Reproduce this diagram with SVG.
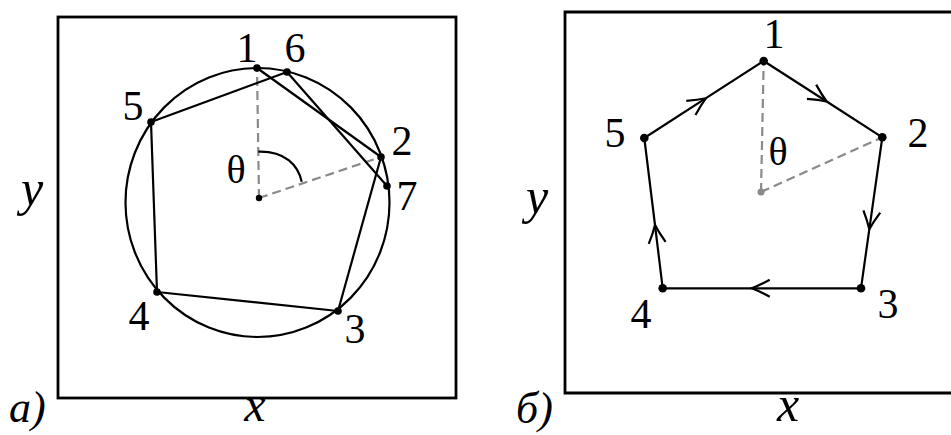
<svg xmlns="http://www.w3.org/2000/svg" width="951" height="435" viewBox="0 0 951 435">
<style>
.frame{fill:none;stroke:#000;stroke-width:2.8}
.edge{fill:none;stroke:#000;stroke-width:2.2}
.dash{fill:none;stroke:#8a8a8a;stroke-width:2.2;stroke-dasharray:9 5}
.pt{fill:#000}
.lbl{font-family:"Liberation Serif",serif;font-size:42px;fill:#000;text-anchor:middle}
.th{font-family:"Liberation Serif",serif;font-size:40px;fill:#000;text-anchor:middle}
.ax{font-family:"Liberation Serif",serif;font-style:italic;font-size:50px;fill:#000;text-anchor:middle}
.tag{font-family:"Liberation Serif",serif;font-style:italic;font-size:44px;fill:#000}
</style>
<defs>
<marker id="chev" markerUnits="userSpaceOnUse" markerWidth="40" markerHeight="40" viewBox="-20 -20 40 40" refX="0" refY="0" orient="auto">
<path d="M-18,-8.5 Q-8,-3 0,0 Q-8,3 -18,8.5" fill="none" stroke="#000" stroke-width="2.2"/>
</marker>
</defs>
<rect width="951" height="435" fill="#fff"/>

<g id="panel-a">
<rect class="frame" x="58" y="17" width="398" height="381"/>
<ellipse class="edge" cx="257.5" cy="202.5" rx="132" ry="134.5"/>
<g id="a-connectors">
<path class="dash" d="M259,198 L257,68"/>
<path class="dash" d="M259,198 L381,157"/>
<path class="edge" d="M258.3,151.7 C285,151 298,165 301.7,181.7"/>
<path class="edge" d="M257,68 L381,157"/>
<path class="edge" d="M381,157 L338,311"/>
<path class="edge" d="M338,311 L157,292"/>
<path class="edge" d="M157,292 L151,122"/>
<path class="edge" d="M151,122 L287,72"/>
<path class="edge" d="M287,72 L387,186"/>
</g>
<g id="a-n1"><circle class="pt" cx="257" cy="68" r="3.8"/><text class="lbl" x="247" y="62">1</text></g>
<g id="a-n2"><circle class="pt" cx="381" cy="157" r="3.8"/><text class="lbl" x="402" y="155">2</text></g>
<g id="a-n3"><circle class="pt" cx="338" cy="311" r="3.8"/><text class="lbl" x="355" y="343">3</text></g>
<g id="a-n4"><circle class="pt" cx="157" cy="292" r="3.8"/><text class="lbl" x="139" y="330">4</text></g>
<g id="a-n5"><circle class="pt" cx="151" cy="122" r="3.8"/><text class="lbl" x="133" y="120">5</text></g>
<g id="a-n6"><circle class="pt" cx="287" cy="72" r="3.8"/><text class="lbl" x="295" y="62">6</text></g>
<g id="a-n7"><circle class="pt" cx="387" cy="186" r="3.8"/><text class="lbl" x="407" y="210">7</text></g>
<g id="a-center"><circle class="pt" cx="259" cy="198" r="3.2"/><text class="th" x="236" y="183">θ</text></g>
<text class="ax" x="32" y="205">y</text>
<text class="ax" x="255" y="421" style="font-size:48px">x</text>
<text class="tag" x="9" y="422">а)</text>
</g>

<g id="panel-b">
<path class="frame" d="M953,12 L565,12 L565,393 L953,393"/>
<g id="b-connectors">
<path class="dash" d="M761,192 L763.7,61"/>
<path class="dash" d="M761,192 L882.3,137.3"/>
<path class="edge" marker-mid="url(#chev)" d="M763.7,61 L826.7,101.5 L882.3,137.3"/>
<path class="edge" marker-mid="url(#chev)" d="M882.3,137.3 L869.3,229.3 L861,288.3"/>
<path class="edge" marker-mid="url(#chev)" d="M861,288.3 L751.7,288.3 L662.7,288.3"/>
<path class="edge" marker-mid="url(#chev)" d="M662.7,288.3 L655,225 L644.3,138"/>
<path class="edge" marker-mid="url(#chev)" d="M644.3,138 L706,98.2 L763.7,61"/>
</g>
<g id="b-n1"><circle class="pt" cx="763.7" cy="61" r="4.3"/><text class="lbl" x="774" y="48">1</text></g>
<g id="b-n2"><circle class="pt" cx="882.3" cy="137.3" r="4.3"/><text class="lbl" x="918" y="147">2</text></g>
<g id="b-n3"><circle class="pt" cx="861" cy="288.3" r="4.3"/><text class="lbl" x="888" y="318">3</text></g>
<g id="b-n4"><circle class="pt" cx="662.7" cy="288.3" r="4.3"/><text class="lbl" x="641" y="328">4</text></g>
<g id="b-n5"><circle class="pt" cx="644.3" cy="138" r="4.3"/><text class="lbl" x="615" y="147">5</text></g>
<g id="b-center"><circle cx="761" cy="192" r="3.5" fill="#8a8a8a"/><text class="th" x="778" y="165">θ</text></g>
<text class="ax" x="537" y="213">y</text>
<text class="ax" x="788" y="421">x</text>
<text class="tag" x="516" y="423">б)</text>
</g>
</svg>
